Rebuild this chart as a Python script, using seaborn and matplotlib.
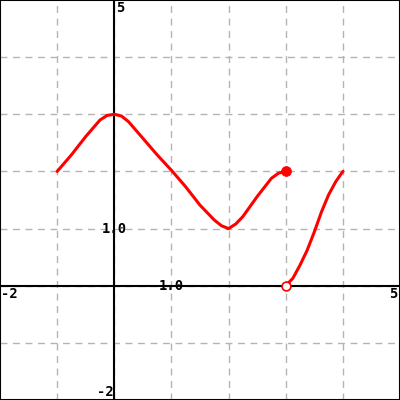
import matplotlib
matplotlib.use('Agg')
import matplotlib.pyplot as plt
import seaborn as sns
import pandas as pd

# curve values
seg1_x = [-1.0, -0.75, -0.5, -0.25, -0.125, 0.0, 0.125, 0.25, 0.5, 0.75, 1.0,
          1.25, 1.5, 1.75, 1.875, 2.0, 2.125, 2.25, 2.5, 2.75, 2.875, 3.0]
seg1_y = [2.0, 2.29, 2.61, 2.90, 2.98, 3.0, 2.97, 2.87, 2.58, 2.29, 2.02,
          1.73, 1.41, 1.15, 1.05, 1.0, 1.08, 1.21, 1.56, 1.88, 1.97, 2.0]
seg2_x = [3.0, 3.125, 3.25, 3.375, 3.5, 3.625, 3.75, 3.875, 4.0]
seg2_y = [0.0, 0.13, 0.36, 0.62, 0.94, 1.29, 1.59, 1.82, 2.0]
closed_pt = (3.0, 2.0)
open_pt = (3.0, 0.0)

x_min, x_max = -2, 5
y_min, y_max = -2, 5

sns.set_style("white")
fig = plt.figure(figsize=(4, 4), dpi=100)
ax = fig.add_axes([0, 0, 1, 1])

# grid at every integer
for gx in range(x_min + 1, x_max):
    ax.axvline(gx, color="#b4b4b4", lw=1, ls=(0, (5, 4)), zorder=0)
for gy in range(y_min + 1, y_max):
    ax.axhline(gy, color="#b4b4b4", lw=1, ls=(0, (5, 4)), zorder=0)
ax.axhline(0, color="black", lw=1.5, zorder=1)
ax.axvline(0, color="black", lw=1.5, zorder=1)

df1 = pd.DataFrame({"x": seg1_x, "y": seg1_y})
df2 = pd.DataFrame({"x": seg2_x, "y": seg2_y})
sns.lineplot(data=df1, x="x", y="y", sort=False, color="red", lw=2.2, ax=ax, zorder=3)
sns.lineplot(data=df2, x="x", y="y", sort=False, color="red", lw=2.2, ax=ax, zorder=3)
sns.scatterplot(x=[closed_pt[0]], y=[closed_pt[1]], color="red", s=50,
                edgecolor="red", ax=ax, zorder=4)
sns.scatterplot(x=[open_pt[0]], y=[open_pt[1]], color="white", s=40,
                edgecolor="red", linewidth=1.2, ax=ax, zorder=4)

ax.set_xlim(x_min, x_max)
ax.set_ylim(y_min, y_max)
ax.set_xticks([])
ax.set_yticks([])
ax.set_xlabel("")
ax.set_ylabel("")
for s in ax.spines.values():
    s.set_color("black")
    s.set_linewidth(1.5)

fk = dict(family="DejaVu Sans Mono", fontsize=10, fontweight="bold", color="black")
ax.text(x_min + 0.02, -0.03, "-2", ha="left", va="top", **fk)
ax.text(x_max - 0.05, -0.03, "5", ha="right", va="top", **fk)
ax.text(0.03, y_max - 0.02, "5", ha="left", va="top", **fk)
ax.text(-0.01, y_min + 0.02, "-2", ha="right", va="bottom", **fk)
ax.text(0.0, 1.0, "1.0", ha="center", va="center", **fk)
ax.text(1.0, 0.0, "1.0", ha="center", va="center", **fk)

plt.savefig("out.png", dpi=100)
